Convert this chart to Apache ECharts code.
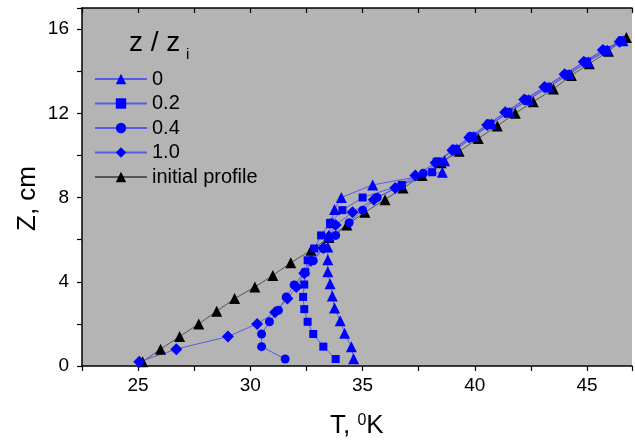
<!DOCTYPE html>
<html>
<head>
<meta charset="utf-8">
<script src="https://cdn.jsdelivr.net/npm/echarts@6/dist/echarts.min.js"></script>
<style>html,body{margin:0;padding:0;background:#fff}#c{width:635px;height:440px}</style>
</head>
<body>
<div id="c"></div>
<script>
// ---- data ----
const seriesNames = ['0', '0.2', '0.4', '1.0', 'initial profile'];
const xTicks = [25, 30, 35, 40, 45];
const yTicks = [0, 4, 8, 12, 16];

const T_z0 = [34.6, 34.5, 34.2, 34.0, 33.75, 33.65, 33.55, 33.45, 33.45, 33.45, 33.5, 33.6, 33.75, 34.05, 35.45, 38.55, 38.65, 39.2, 39.95, 40.75, 41.55, 42.4, 43.3, 44.2, 45.05, 45.9, 46.6];
const Z_z0 = [0.35, 0.92, 1.55, 2.15, 2.75, 3.32, 3.9, 4.47, 5.05, 5.65, 6.2, 6.8, 7.43, 8.0, 8.6, 9.2, 9.75, 10.3, 10.9, 11.5, 12.05, 12.65, 13.25, 13.85, 14.45, 15.0, 15.45];

const T_z02 = [33.8, 33.25, 32.8, 32.55, 32.4, 32.35, 32.4, 32.45, 32.55, 32.85, 33.15, 33.55, 34.1, 35.0, 36.75, 38.1, 38.3, 39.15, 39.9, 40.7, 41.5, 42.35, 43.25, 44.15, 45.0, 45.85, 46.55];
const Z_z02 = [0.33, 0.92, 1.52, 2.1, 2.7, 3.28, 3.87, 4.45, 5.02, 5.58, 6.2, 6.8, 7.4, 8.0, 8.6, 9.2, 9.7, 10.3, 10.9, 11.5, 12.05, 12.65, 13.25, 13.85, 14.45, 15.0, 15.45];

const T_z04 = [31.55, 30.5, 30.5, 30.85, 31.25, 31.6, 31.95, 32.4, 32.8, 33.25, 33.8, 34.4, 35.0, 35.65, 36.7, 37.7, 38.4, 39.05, 39.8, 40.6, 41.4, 42.25, 43.15, 44.05, 44.9, 45.75, 46.5];
const Z_z04 = [0.33, 0.92, 1.52, 2.1, 2.65, 3.28, 3.85, 4.42, 5.0, 5.58, 6.2, 6.8, 7.4, 8.0, 8.55, 9.15, 9.7, 10.3, 10.9, 11.5, 12.05, 12.65, 13.25, 13.85, 14.45, 15.0, 15.45];

const T_z10 = [25.05, 26.7, 29.0, 30.3, 31.1, 31.65, 32.05, 32.4, 32.7, 33.25, 33.5, 33.8, 34.55, 35.5, 36.45, 37.35, 38.25, 39.0, 39.75, 40.55, 41.35, 42.2, 43.1, 44.0, 44.85, 45.7, 46.45];
const Z_z10 = [0.2, 0.8, 1.4, 2.0, 2.55, 3.2, 3.75, 4.4, 5.0, 5.6, 6.15, 6.7, 7.3, 7.9, 8.45, 9.05, 9.65, 10.25, 10.85, 11.45, 12.05, 12.65, 13.25, 13.85, 14.45, 15.0, 15.4];

const T_init = [25.2, 26.0, 26.85, 27.7, 28.5, 29.3, 30.2, 31.0, 31.8, 32.7, 33.5, 34.3, 35.1, 36.0, 36.8, 37.65, 38.5, 39.3, 40.15, 41.0, 41.8, 42.6, 43.5, 44.3, 45.1, 45.95, 46.75];
const Z_init = [0.2, 0.8, 1.4, 2.0, 2.6, 3.2, 3.75, 4.3, 4.9, 5.5, 6.1, 6.7, 7.3, 7.9, 8.45, 9.05, 9.65, 10.2, 10.8, 11.4, 12.0, 12.55, 13.15, 13.8, 14.35, 14.95, 15.6];

// ---- chart ----
const pair = (xs, ys) => xs.map((x, i) => [x, ys[i]]);
const FONT = 'Liberation Sans, Arial, sans-serif';
const BLUE = '#0000ff';
const BLUE_LINE = '#5a5ae6';

function mkSeries(name, xs, ys, symbol, size, color, lineColor) {
  return {
    name: name, type: 'line', data: pair(xs, ys),
    symbol: symbol, symbolSize: size,
    itemStyle: { color: color },
    lineStyle: { color: lineColor, width: 1 },
    emphasis: { disabled: true },
    animation: false, z: 3
  };
}

const chart = echarts.init(document.getElementById('c'), null, { renderer: 'canvas' });
const option = {
  backgroundColor: '#ffffff',
  animation: false,
  grid: { left: 82, top: 8, right: -1, bottom: 74, show: true, backgroundColor: '#b4b4b4', borderWidth: 0 },
  xAxis: [{
    type: 'value', min: 22.5, max: 47, interval: 2.5, position: 'bottom',
    axisLine: { show: true, onZero: false, lineStyle: { color: '#000', width: 1.5 } },
    axisTick: { show: true, inside: false, length: 5, lineStyle: { color: '#000', width: 1.2 } },
    axisLabel: { fontFamily: FONT, fontSize: 19, color: '#000', margin: 10,
      formatter: v => (xTicks.indexOf(v) >= 0 ? String(v) : '') },
    splitLine: { show: false }
  }, {
    type: 'value', min: 22.5, max: 47, interval: 2.5, position: 'top',
    axisLine: { show: true, onZero: false, lineStyle: { color: '#000', width: 1.5 } },
    axisTick: { show: true, inside: true, length: 5, lineStyle: { color: '#000', width: 1.2 } },
    axisLabel: { show: false }, splitLine: { show: false }
  }],
  yAxis: [{
    type: 'value', min: 0, max: 17, interval: 2, position: 'left',
    axisLine: { show: true, onZero: false, lineStyle: { color: '#000', width: 1.5 } },
    axisTick: { show: true, inside: false, length: 5, lineStyle: { color: '#000', width: 1.2 } },
    axisLabel: { fontFamily: FONT, fontSize: 19, color: '#000', margin: 13,
      formatter: v => (yTicks.indexOf(v) >= 0 ? String(v) : '') },
    splitLine: { show: false }
  }],
  legend: {
    orient: 'vertical', left: 89, top: 64, itemWidth: 52, itemHeight: 13, itemGap: 4.5,
    textStyle: { fontFamily: FONT, fontSize: 20, color: '#000', padding: [0, 0, 0, 0] },
    data: seriesNames
  },
  series: [
    mkSeries(seriesNames[4], T_init, Z_init, 'triangle', 11, '#000000', '#555555'),
    mkSeries(seriesNames[3], T_z10, Z_z10, 'diamond', 12, BLUE, BLUE_LINE),
    mkSeries(seriesNames[2], T_z04, Z_z04, 'circle', 9, BLUE, BLUE_LINE),
    mkSeries(seriesNames[1], T_z02, Z_z02, 'rect', 8, BLUE, BLUE_LINE),
    mkSeries(seriesNames[0], T_z0, Z_z0, 'triangle', 11, BLUE, BLUE_LINE)
  ],
  graphic: [
    { type: 'text', left: 129, top: 29, style: { text: 'z / z', font: '28px ' + FONT, fill: '#000' } },
    { type: 'text', left: 186, top: 47, style: { text: 'i', font: '15px ' + FONT, fill: '#000' } },
    { type: 'text', left: 15, top: 166, rotation: Math.PI / 2,
      style: { text: 'Z, cm', font: '26px ' + FONT, fill: '#000' } },
    { type: 'text', left: 330, top: 413,
      style: { text: 'T, {s|0}K', font: '26px ' + FONT, fill: '#000',
        rich: { s: { fontSize: 16, verticalAlign: 'top', fontFamily: FONT } } } }
  ]
};
chart.setOption(option);
</script>
</body>
</html>
